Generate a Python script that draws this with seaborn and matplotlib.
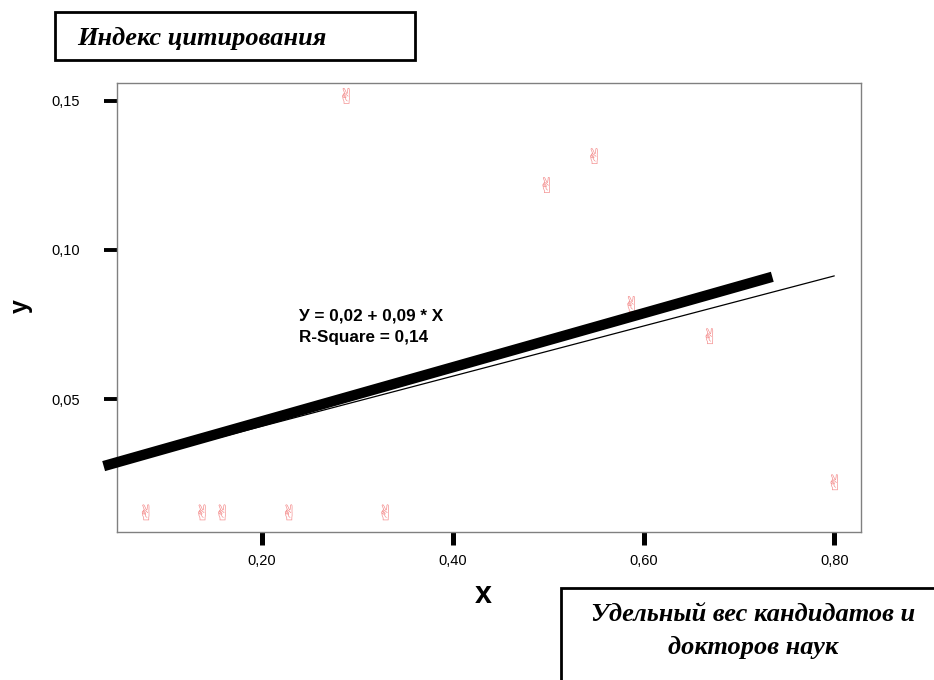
import numpy as np
import pandas as pd
import matplotlib
matplotlib.use("Agg")
import matplotlib.pyplot as plt
import matplotlib.ticker as mticker
from matplotlib.patches import Rectangle
import seaborn as sns

# share of candidates/doctors of science vs citation index
share_x = [0.078, 0.137, 0.158, 0.228, 0.329, 0.288, 0.498, 0.548, 0.587, 0.669, 0.800]
cite_y = [0.012, 0.012, 0.012, 0.012, 0.012, 0.1517, 0.1218, 0.1315, 0.0819, 0.0711, 0.0221]

# thin fitted line (end points)
fit_x = [0.078, 0.800]
fit_y = [0.0306, 0.0913]

# hand-drawn heavy trend line (end points)
bold_x = [0.034, 0.735]
bold_y = [0.0275, 0.0910]

x_ticks = [0.20, 0.40, 0.60, 0.80]
y_ticks = [0.05, 0.10, 0.15]
fit_text = "У = 0,02 + 0,09 * X\nR-Square = 0,14"
title_text = "Индекс цитирования"
xname_text = "Удельный вес кандидатов и\nдокторов наук"

sns.set_theme(style="white")
plt.rcParams["font.family"] = ["Liberation Sans", "DejaVu Sans"]
plt.rcParams["text.color"] = "black"
plt.rcParams["axes.labelcolor"] = "black"
plt.rcParams["xtick.color"] = "black"
plt.rcParams["ytick.color"] = "black"

df = pd.DataFrame({"x": share_x, "y": cite_y})
df_fit = pd.DataFrame({"x": fit_x, "y": fit_y})
df_bold = pd.DataFrame({"x": bold_x, "y": bold_y})

fig = plt.figure(figsize=(9.34, 6.8), dpi=100)
ax = fig.add_axes([117 / 934, 1 - 532 / 680, (861 - 117) / 934, (532 - 83) / 680])

sns.lineplot(data=df_fit, x="x", y="y", ax=ax, color="black", lw=0.9)
sns.scatterplot(data=df, x="x", y="y", ax=ax, marker="$\u270c$", s=130,
                color="#f38484", edgecolor="none", linewidth=0, zorder=4)
bold_line, = ax.plot(df_bold["x"], df_bold["y"], color="black", lw=7.5,
                     solid_capstyle="butt", zorder=5)
bold_line.set_clip_on(False)

ax.set_xlim(0.048, 0.828)
ax.set_ylim(0.0054, 0.156)
ax.set_xticks(x_ticks)
ax.set_yticks(y_ticks)
fmt = mticker.FuncFormatter(lambda v, p: f"{v:.2f}".replace(".", ","))
ax.xaxis.set_major_formatter(fmt)
ax.yaxis.set_major_formatter(fmt)
ax.tick_params(axis="both", which="major", direction="out", length=9.5,
               color="black", labelsize=10.5, bottom=True, left=True)
ax.tick_params(axis="y", width=2.8, pad=17)
ax.tick_params(axis="x", width=3.6, pad=6)
for sp in ax.spines.values():
    sp.set_color("#808080")
    sp.set_linewidth(1.0)

ax.set_xlabel("x", fontsize=22, fontweight="bold")
ax.set_ylabel("y", fontsize=18, fontweight="bold")
ax.yaxis.label.set_va("center")
ax.xaxis.set_label_coords((483 - 117) / (861 - 117), -(580 - 532) / (532 - 83))
ax.yaxis.set_label_coords(-(117 - 21) / (861 - 117), (532 - 306) / (532 - 83))

ax.text(0.2385, 0.0805, fit_text, fontsize=12.3, fontweight="bold", linespacing=1.6,
        va="top", ha="left")

# framed captions
fig.patches.append(Rectangle((55 / 934, 1 - 60 / 680), 360 / 934, 48 / 680,
                             transform=fig.transFigure, fill=False, lw=2, ec="black"))
fig.text(77 / 934, 1 - 38 / 680, title_text, fontsize=19, fontweight="bold",
         fontstyle="italic", family="Liberation Serif", va="center", ha="left")
fig.patches.append(Rectangle((561 / 934, -0.05), 0.5, 1 - 588 / 680 + 0.05,
                             transform=fig.transFigure, fill=False, lw=2, ec="black"))
fig.text(753 / 934, 1 - 631 / 680, xname_text, fontsize=19, fontweight="bold",
         fontstyle="italic", family="Liberation Serif", va="center", ha="center",
         linespacing=1.55)

fig.savefig("out.png", dpi=100)
